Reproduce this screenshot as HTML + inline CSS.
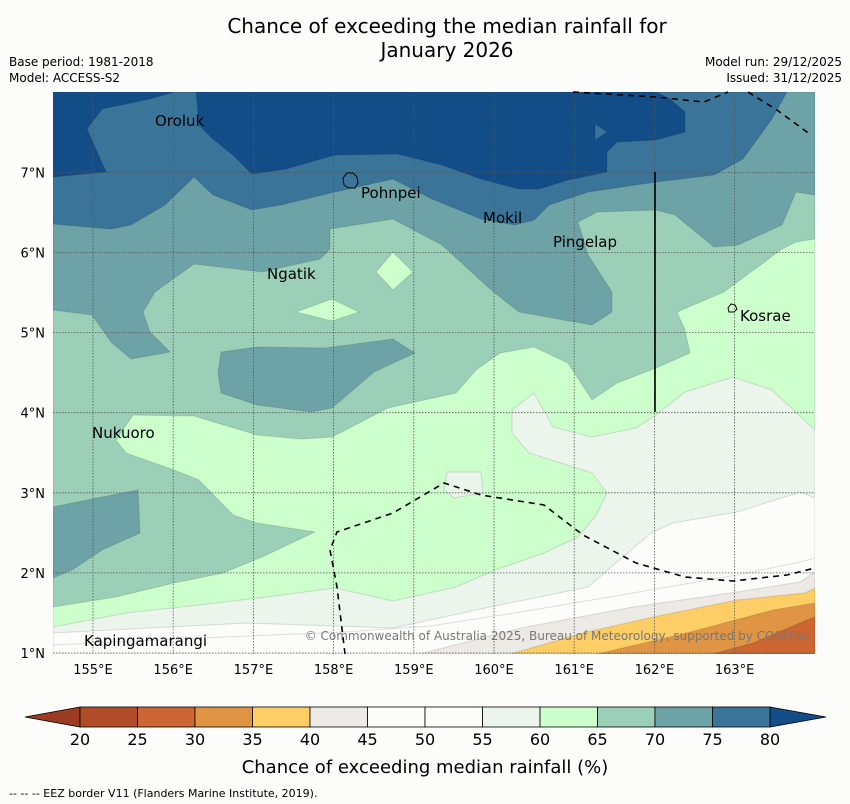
<!DOCTYPE html>
<html><head><meta charset="utf-8"><style>
body{margin:0;background:#fcfdfb;}
svg{display:block;font-family:"DejaVu Sans","Liberation Sans",sans-serif;}
</style></head><body>
<svg id="s" width="850" height="804" viewBox="0 0 850 804" xmlns="http://www.w3.org/2000/svg">
<rect width="850" height="804" fill="#fcfdfb"/>
<text x="447" y="33" font-size="20" text-anchor="middle">Chance of exceeding the median rainfall for</text>
<text x="447" y="57" font-size="20" text-anchor="middle">January 2026</text>
<text x="9" y="66" font-size="12">Base period: 1981-2018</text>
<text x="9" y="82" font-size="12">Model: ACCESS-S2</text>
<text x="842" y="66" font-size="12" text-anchor="end">Model run: 29/12/2025</text>
<text x="842" y="82" font-size="12" text-anchor="end">Issued: 31/12/2025</text>
<defs><clipPath id="mc"><rect x="53" y="92" width="762" height="562"/></clipPath></defs>
<g clip-path="url(#mc)" stroke="#000" stroke-opacity="0.12" stroke-width="1">
<rect x="53" y="92" width="762" height="562" fill="#134d87"/>
<polygon fill="#3b7499" points="174,92 150,99 102,109 87,129 106,172 53,177 53,654 815,654 815,92 656,92 670,99 685,112 685,132 656,140 617,142 607,152 607,172 568,180 539,189 519,189 481,179 442,165 398,154 335,155 286,169 252,174 233,155 213,139 199,125 196,92"/>
<polygon fill="#3b7499" points="595,124 607,132 595,140"/>
<polygon fill="#6da3a6" points="53,224 111,229 131,225 165,205 194,177 213,195 252,210 281,205 335,192 393,179 432,199 481,219 515,225 534,220 549,205 588,192 656,182 714,175 743,159 772,119 787,92 815,92 815,654 53,654"/>
<polygon fill="#9ccfb8" points="53,310 92,315 111,342 131,359 170,352 150,332 143,312 155,292 194,264 262,272 320,259 330,249 330,229 393,219 442,245 490,289 519,312 592,325 612,312 612,292 588,255 578,222 597,212 656,210 675,215 714,247 738,245 782,225 796,192 815,195 815,654 53,654"/>
<polygon fill="#6da3a6" points="221,352 257,347 325,348 393,339 415,353 374,372 332,408 311,412 257,405 221,393 218,373"/>
<polygon fill="#6da3a6" points="53,507 102,497 138,490 140,533 102,550 72,570 53,578"/>
<polygon fill="#ccffcc" points="53,607 116,597 174,583 223,573 262,557 315,532 257,523 233,515 199,480 174,470 126,453 116,440 133,415 194,416 257,435 301,439 332,437 388,408 456,393 476,370 500,353 534,347 568,363 592,400 617,383 656,368 690,353 685,330 677,312 724,292 782,249 796,242 815,239 815,654 53,654"/>
<polygon fill="#ccffcc" points="393,252 413,272 393,290 376,272"/>
<polygon fill="#ccffcc" points="296,312 332,299 359,312 332,321"/>
<polygon fill="#ebf5eb" points="53,627 126,613 199,605 267,597 335,588 393,601 456,587 495,570 544,553 578,537 595,517 607,493 592,473 529,453 512,433 512,410 534,393 553,427 592,437 636,428 656,415 685,392 733,377 772,390 815,430 815,654 53,654"/>
<polygon fill="#ebf5eb" points="447,472 481,472 483,493 454,498 444,490"/>
<polygon fill="#fcfdfb" points="53,633 247,623 393,628 490,607 588,587 651,533 673,523 737,512 800,492 815,498 815,654 53,654"/>
<polyline fill="none" points="53,645 199,638 345,632 430,626 521,612 633,593 737,575 800,562 815,558"/>
<polygon fill="#ede9e4" points="420,654 521,628 633,607 737,592 800,582 815,572 815,654"/>
<polygon fill="#fdcd66" points="510,654 587,632 653,617 737,600 805,593 815,588 815,654"/>
<polygon fill="#e09545" points="597,654 687,633 773,610 815,603 815,654"/>
<polygon fill="#cc6633" points="713,654 753,643 807,620 815,617 815,654"/>
</g>
<g id="grid"></g>
<g fill="none" stroke="#000" stroke-width="1.6" stroke-dasharray="6,5">
<polyline points="573,92 656,97 704,102 728,92"/>
<polyline points="748,92 777,110 811,135"/>
<polyline points="345,654 337,587 330,550 337,532 393,513 444,483 481,495 544,505 583,535 636,563 685,577 733,581 787,575 815,568"/>
</g>
<line x1="655" y1="172" x2="655" y2="412" stroke="#000" stroke-width="1.6"/>
<path d="M343,178 l4,-5 6,0 4,4 1,6 -3,5 -6,0 -5,-3 z" fill="none" stroke="#000" stroke-width="1"/>
<path d="M728,308 l3,-4 4,1 2,4 -3,3 -5,0 z" fill="none" stroke="#000" stroke-width="1"/>
<g font-size="15" fill="#000">
<text x="155" y="126">Oroluk</text>
<text x="361" y="198">Pohnpei</text>
<text x="483" y="223">Mokil</text>
<text x="553" y="247">Pingelap</text>
<text x="267" y="279">Ngatik</text>
<text x="740" y="321">Kosrae</text>
<text x="92" y="438">Nukuoro</text>
<text x="84" y="646">Kapingamarangi</text>
</g>
<text x="810" y="640" font-size="12" fill="#777" text-anchor="end">© Commonwealth of Australia 2025, Bureau of Meteorology, supported by COSPPac</text>
<g id="ticks" font-size="13"></g>
<g id="cbar"></g>
<text x="425" y="773" font-size="18" text-anchor="middle">Chance of exceeding median rainfall (%)</text>
<text x="9" y="797" font-size="11">--  --  -- EEZ border V11 (Flanders Marine Institute, 2019).</text>
</svg>
<script>
const lonTicks=[155,156,157,158,159,160,161,162,163];
const latTicks=[1,2,3,4,5,6,7];
const cbLevels=[20,25,30,35,40,45,50,55,60,65,70,75,80];
const cbColors=["#b04d28","#cc6633","#e09545","#fdcd66","#ede9e4","#fcfdfb","#fcfdfb","#ebf5eb","#ccffcc","#9ccfb8","#6da3a6","#3b7499"];
const cbUnder="#9c3b22", cbOver="#134d87";
const NS="http://www.w3.org/2000/svg";
const X=l=>93+(l-155)*80.2, Y=t=>653-(t-1)*80.1;
function mk(t,a,p){const e=document.createElementNS(NS,t);for(const k in a)e.setAttribute(k,a[k]);p.appendChild(e);return e;}
const g=document.getElementById('grid'),tk=document.getElementById('ticks'),cb=document.getElementById('cbar');
lonTicks.forEach(l=>{
 const ln=mk('line',{x1:X(l),x2:X(l),y1:92,y2:654,stroke:'#555','stroke-width':0.8,'stroke-dasharray':'1.5,1.5'},g);
 
 
 const t=mk('text',{x:X(l),y:674,'text-anchor':'middle'},tk);t.textContent=l+'°E';
 
 
});
latTicks.forEach(v=>{
 const ln=mk('line',{x1:53,x2:815,y1:Y(v),y2:Y(v),stroke:'#555','stroke-width':0.8,'stroke-dasharray':'1.5,1.5'},g);
 
 
 const t=mk('text',{x:45,y:Y(v)+5,'text-anchor':'end'},tk);t.textContent=v+'°N';
 
 
});
const CX=v=>80+(v-20)*11.5, cy=707, ch=20;
mk('polygon',{points:`${CX(20)},${cy} 25,${cy+ch/2} ${CX(20)},${cy+ch}`,fill:cbUnder,stroke:'#000','stroke-width':0.8},cb);
mk('polygon',{points:`${CX(80)},${cy} 826,${cy+ch/2} ${CX(80)},${cy+ch}`,fill:cbOver,stroke:'#000','stroke-width':0.8},cb);
cbColors.forEach((c,i)=>{
 const r=mk('rect',{x:CX(cbLevels[i]),y:cy,width:CX(cbLevels[i+1])-CX(cbLevels[i]),height:ch,fill:c,stroke:'#000','stroke-width':0.8},cb);
 
 
});
cbLevels.forEach(v=>{
 const t=mk('text',{x:CX(v),y:745,'font-size':16,'text-anchor':'middle'},cb);t.textContent=v;
 
 
});
</script>
</body></html>
